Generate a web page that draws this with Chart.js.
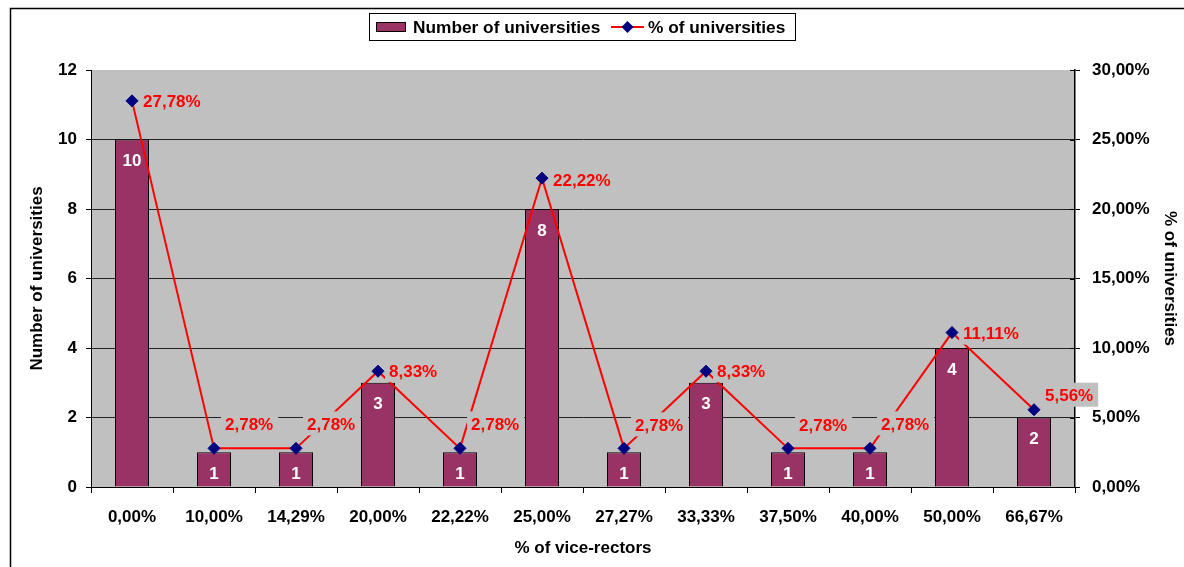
<!DOCTYPE html>
<html>
<head>
<meta charset="utf-8">
<title>Universities by share of vice-rectors</title>
<script src="https://cdn.jsdelivr.net/npm/chart.js@4.4.1/dist/chart.umd.min.js"></script>
<style>
  html, body { margin: 0; padding: 0; background: #ffffff; }
  canvas { display: block; }
</style>
</head>
<body>
<canvas id="chart" width="1184" height="567"></canvas>
<script>
// Share of vice-rectors (x categories)
const categories = ['0,00%', '10,00%', '14,29%', '20,00%', '22,22%', '25,00%',
                    '27,27%', '33,33%', '37,50%', '40,00%', '50,00%', '66,67%'];
// Number of universities in each category
const universityCounts = [10, 1, 1, 3, 1, 8, 1, 3, 1, 1, 4, 2];
// Same counts as a percentage of all universities
const universityShares = [27.78, 2.78, 2.78, 8.33, 2.78, 22.22, 2.78, 8.33, 2.78, 2.78, 11.11, 5.56];

const countTickStep = 2;
const shareTickStep = 5;

const FONT_FAMILY = '"Liberation Sans", Arial, sans-serif';
const FONT = { family: FONT_FAMILY, size: 17, weight: 'bold' };
const FONT_CSS = 'bold 17px ' + FONT_FAMILY;
const LEGEND_FONT_CSS = 'bold 17.3px ' + FONT_FAMILY;
const PLOT_BG = '#C0C0C0';
const BAR_COLOR = '#993366';
const LINE_COLOR = '#FF0000';
const MARKER_COLOR = '#000080';

const fmtPct = v => v.toFixed(2).replace('.', ',') + '%';

// vertical nudges for the percentage labels so they clear the bars
const shareLabelLift = [0, -24, -24, 0, -24, 2, -23, 0, -23, -24, 1, -14];

const decorations = {
  id: 'decorations',
  beforeDraw(chart) {
    const { ctx, chartArea: a } = chart;
    ctx.save();
    ctx.fillStyle = PLOT_BG;
    ctx.fillRect(a.left, a.top, a.right - a.left, a.bottom - a.top);
    ctx.restore();
  },
  afterDraw(chart) {
    const { ctx, chartArea: a } = chart;
    ctx.save();

    // inner half of the right-axis tick marks
    const yPct = chart.scales.yPct;
    ctx.strokeStyle = '#000';
    ctx.lineWidth = 1;
    yPct.ticks.forEach(t => {
      const y = Math.round(yPct.getPixelForValue(t.value)) + 0.5;
      ctx.beginPath();
      ctx.moveTo(a.right - 5, y);
      ctx.lineTo(a.right, y);
      ctx.stroke();
    });

    ctx.font = FONT_CSS;
    ctx.textBaseline = 'middle';

    // counts written inside the top of each bar
    const barMeta = chart.getDatasetMeta(1);
    ctx.fillStyle = '#ffffff';
    ctx.textAlign = 'center';
    barMeta.data.forEach((el, i) => {
      ctx.fillText(String(universityCounts[i]), el.x, el.y + 22);
    });

    // percentage labels beside each marker, on a plot-coloured patch
    const lineMeta = chart.getDatasetMeta(0);
    ctx.textAlign = 'left';
    lineMeta.data.forEach((el, i) => {
      const txt = fmtPct(universityShares[i]);
      const w = ctx.measureText(txt).width;
      const x = el.x + 11;
      const y = el.y + shareLabelLift[i];
      ctx.fillStyle = PLOT_BG;
      ctx.fillRect(x - 4, y - 13, w + 9, 24);
      ctx.fillStyle = LINE_COLOR;
      ctx.fillText(txt, x, y + 1);
    });

    // legend
    const lx = 369.5, ly = 13.5, lw = 426, lh = 27;
    ctx.fillStyle = '#ffffff';
    ctx.fillRect(lx, ly, lw, lh);
    ctx.strokeStyle = '#000';
    ctx.lineWidth = 1;
    ctx.strokeRect(lx, ly, lw, lh);
    const cy = ly + lh / 2;
    ctx.fillStyle = BAR_COLOR;
    ctx.fillRect(376.5, 22.5, 29, 9);
    ctx.strokeRect(376.5, 22.5, 29, 9);
    ctx.font = LEGEND_FONT_CSS;
    ctx.fillStyle = '#000';
    ctx.fillText(chart.data.datasets[1].label, 413, cy + 1);
    ctx.strokeStyle = LINE_COLOR;
    ctx.lineWidth = 2;
    ctx.beginPath();
    ctx.moveTo(611, cy);
    ctx.lineTo(644, cy);
    ctx.stroke();
    ctx.fillStyle = MARKER_COLOR;
    ctx.beginPath();
    ctx.moveTo(627.5, cy - 6);
    ctx.lineTo(633.5, cy);
    ctx.lineTo(627.5, cy + 6);
    ctx.lineTo(621.5, cy);
    ctx.closePath();
    ctx.fill();
    ctx.fillStyle = '#000';
    ctx.fillText(chart.data.datasets[0].label, 648, cy + 1);

    // outer frame
    ctx.strokeStyle = '#000';
    ctx.lineWidth = 1.5;
    ctx.beginPath();
    ctx.moveTo(10.5, 567);
    ctx.lineTo(10.5, 8.5);
    ctx.lineTo(1184, 8.5);
    ctx.stroke();

    ctx.restore();
  }
};

new Chart(document.getElementById('chart'), {
  data: {
    labels: categories,
    datasets: [
      {
        type: 'line',
        label: '% of universities',
        data: universityShares,
        yAxisID: 'yPct',
        borderColor: LINE_COLOR,
        borderWidth: 2,
        tension: 0,
        pointStyle: 'rectRot',
        pointRadius: 6,
        pointBackgroundColor: MARKER_COLOR,
        pointBorderColor: MARKER_COLOR,
        pointBorderWidth: 1,
        order: 0
      },
      {
        type: 'bar',
        label: 'Number of universities',
        data: universityCounts,
        yAxisID: 'yCount',
        backgroundColor: BAR_COLOR,
        borderColor: '#000000',
        borderWidth: 1,
        barPercentage: 0.415,
        categoryPercentage: 1,
        order: 1
      }
    ]
  },
  options: {
    responsive: false,
    animation: false,
    layout: { padding: { left: 10, top: 70, right: 0, bottom: 0 } },
    plugins: { legend: { display: false }, tooltip: { enabled: false } },
    scales: {
      x: {
        offset: true,
        grid: { offset: true, drawOnChartArea: false, drawTicks: true, tickLength: 6, color: '#000' },
        border: { color: '#000', width: 1 },
        ticks: { color: '#000', font: FONT, padding: 14, maxRotation: 0 },
        title: { display: true, text: '% of vice-rectors', color: '#000', font: FONT, padding: { top: 4, bottom: 8 } },
        afterFit(s) { s.height = 80; }
      },
      yCount: {
        position: 'left',
        min: 0,
        max: 12,
        ticks: { stepSize: countTickStep, color: '#000', font: FONT, padding: 9 },
        grid: {
          color: c => (c.tick && c.tick.value === 12) ? 'rgba(0,0,0,0)' : '#222',
          tickColor: '#000',
          tickLength: 5,
          lineWidth: 1
        },
        border: { color: '#000', width: 1 },
        title: { display: true, text: 'Number of universities', color: '#000', font: FONT, padding: { top: 17, bottom: 0 } },
        afterFit(s) { s.width = 81; }
      },
      yPct: {
        position: 'right',
        min: 0,
        max: 30,
        ticks: { stepSize: shareTickStep, color: '#000', font: FONT, padding: 12, callback: v => fmtPct(v) },
        grid: { drawOnChartArea: false, tickLength: 5, color: '#000' },
        border: { color: '#000', width: 1.5 },
        title: { display: true, text: '% of universities', color: '#000', font: FONT, padding: { top: 4, bottom: 0 } },
        afterFit(s) { s.width = 109; }
      }
    }
  },
  plugins: [decorations]
});
</script>
</body>
</html>
